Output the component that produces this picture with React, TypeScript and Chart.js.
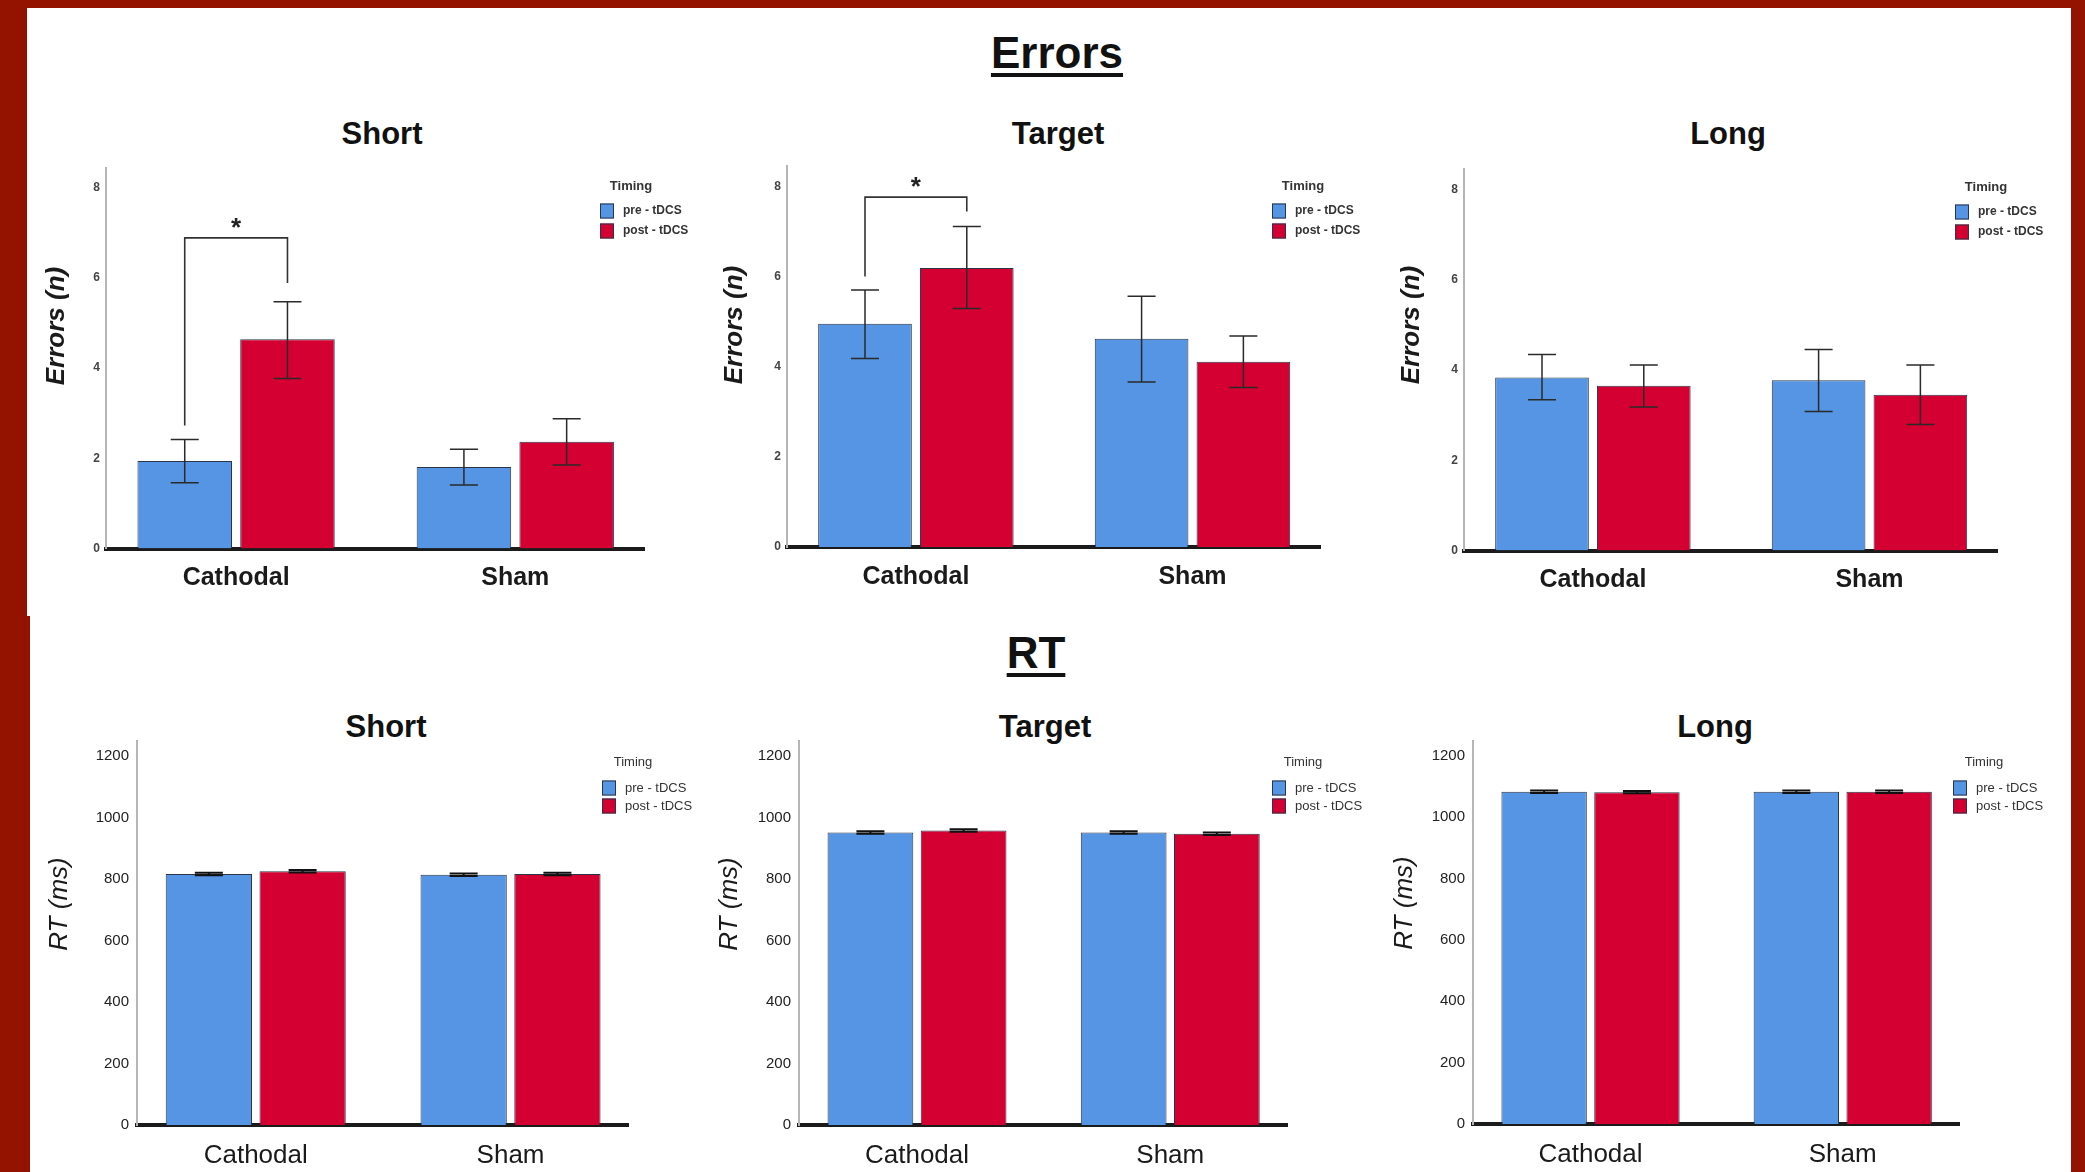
import React, { useEffect, useRef } from "react";
import { Chart, registerables } from "chart.js";

Chart.register(...registerables);

// ---------- DATA ----------
const CATEGORIES = ["Cathodal", "Sham"];
const SERIES_LABELS = ["pre - tDCS", "post - tDCS"];
const LEGEND_TITLE = "Timing";
const ERR_TICK_STEP = 2;
const ERR_AXIS_MAX = 8.45;
const RT_TICK_STEP = 200;
const RT_AXIS_MAX = 1250;

// Errors (n): means and 95% CI [low, high] per category
const errShortPre = [1.94, 1.81];
const errShortPost = [4.64, 2.37];
const errShortPreCI = [[1.46, 2.42], [1.41, 2.2]];
const errShortPostCI = [[3.77, 5.47], [1.85, 2.88]];

const errTargetPre = [4.95, 4.62];
const errTargetPost = [6.19, 4.11];
const errTargetPreCI = [[4.18, 5.7], [3.66, 5.56]];
const errTargetPostCI = [[5.29, 7.11], [3.54, 4.68]];

const errLongPre = [3.83, 3.77];
const errLongPost = [3.65, 3.45];
const errLongPreCI = [[3.34, 4.34], [3.08, 4.45]];
const errLongPostCI = [[3.18, 4.11], [2.79, 4.11]];

// RT (ms)
const rtShortPre = [816, 814];
const rtShortPost = [825, 816];
const rtShortPreCI = [[812, 820], [810, 818]];
const rtShortPostCI = [[821, 829], [812, 820]];

const rtTargetPre = [951, 951];
const rtTargetPost = [958, 947];
const rtTargetPreCI = [[947, 955], [947, 955]];
const rtTargetPostCI = [[954, 962], [943, 951]];

const rtLongPre = [1083, 1083];
const rtLongPost = [1082, 1083];
const rtLongPreCI = [[1079, 1087], [1079, 1087]];
const rtLongPostCI = [[1078, 1086], [1079, 1087]];

// Significance brackets (Cathodal pre vs post): [left end, bracket top, right end, star]
const sigShort = [2.73, 6.89, 5.89, 7.22];
const sigTarget = [6.0, 7.76, 7.44, 8.09];

// ---------- STYLE / LAYOUT ----------
const FONT = "'Liberation Sans', Arial, Helvetica, sans-serif";
const BLUE = "#5595e3";
const RED = "#d30031";
const BAR_BORDER = "#2c3548";
const FRAME = "#941300";
// category axis range (category index units) so groups sit at ~24% / 76% of the axis
const X_MIN = -0.466;
const X_MAX = 1.461;

type Panel = {
  key: string;
  kind: "err" | "rt";
  title: string;
  titleX: number;
  titleY: number;
  pre: number[];
  post: number[];
  preCI: number[][];
  postCI: number[][];
  sig?: number[];
  canvas: { x: number; y: number; w: number; h: number };
  area: { l: number; r: number; t: number; b: number };
  yTitle: { x: number; y: number };
  legend: { x: number; y: number };
};

const PANELS: Panel[] = [
  {
    key: "es", kind: "err", title: "Short", titleX: 382, titleY: 133,
    pre: errShortPre, post: errShortPost, preCI: errShortPreCI, postCI: errShortPostCI, sig: sigShort,
    canvas: { x: 30, y: 150, w: 685, h: 465 },
    area: { l: 106, r: 644, t: 167.5, b: 548.5 },
    yTitle: { x: 57, y: 326 }, legend: { x: 600, y: 186 },
  },
  {
    key: "et", kind: "err", title: "Target", titleX: 1058, titleY: 133,
    pre: errTargetPre, post: errTargetPost, preCI: errTargetPreCI, postCI: errTargetPostCI, sig: sigTarget,
    canvas: { x: 715, y: 150, w: 670, h: 465 },
    area: { l: 787, r: 1320, t: 166, b: 547 },
    yTitle: { x: 735, y: 325 }, legend: { x: 1272, y: 186 },
  },
  {
    key: "el", kind: "err", title: "Long", titleX: 1728, titleY: 133,
    pre: errLongPre, post: errLongPost, preCI: errLongPreCI, postCI: errLongPostCI,
    canvas: { x: 1385, y: 150, w: 683, h: 465 },
    area: { l: 1464, r: 1997, t: 169, b: 550.5 },
    yTitle: { x: 1412, y: 325 }, legend: { x: 1955, y: 187 },
  },
  {
    key: "rs", kind: "rt", title: "Short", titleX: 386, titleY: 726,
    pre: rtShortPre, post: rtShortPost, preCI: rtShortPreCI, postCI: rtShortPostCI,
    canvas: { x: 30, y: 705, w: 678, h: 467 },
    area: { l: 137, r: 628, t: 740.6, b: 1125 },
    yTitle: { x: 60, y: 904 }, legend: { x: 602, y: 762 },
  },
  {
    key: "rt", kind: "rt", title: "Target", titleX: 1045, titleY: 726,
    pre: rtTargetPre, post: rtTargetPost, preCI: rtTargetPreCI, postCI: rtTargetPostCI,
    canvas: { x: 708, y: 705, w: 677, h: 467 },
    area: { l: 799, r: 1287, t: 740.6, b: 1125 },
    yTitle: { x: 730, y: 904 }, legend: { x: 1272, y: 762 },
  },
  {
    key: "rl", kind: "rt", title: "Long", titleX: 1715, titleY: 726,
    pre: rtLongPre, post: rtLongPost, preCI: rtLongPreCI, postCI: rtLongPostCI,
    canvas: { x: 1385, y: 705, w: 683, h: 467 },
    area: { l: 1473, r: 1959, t: 740.6, b: 1124 },
    yTitle: { x: 1405, y: 903 }, legend: { x: 1953, y: 762 },
  },
];

function makeOverlay(p: Panel) {
  const ox = p.canvas.x;
  const oy = p.canvas.y;
  const isErr = p.kind === "err";
  return {
    id: "overlay_" + p.key,
    afterDatasetsDraw(chart: any) {
      const ctx = chart.ctx;
      const ys = chart.scales.y;
      ctx.save();
      // error bars
      const cis = [p.preCI, p.postCI];
      const cap = 14;
      cis.forEach((ci, di) => {
        const meta = chart.getDatasetMeta(di);
        meta.data.forEach((el: any, j: number) => {
          const x = el.x;
          const y1 = ys.getPixelForValue(ci[j][0]);
          const y2 = ys.getPixelForValue(ci[j][1]);
          ctx.strokeStyle = isErr ? "#2a2a2a" : "#111";
          ctx.lineWidth = isErr ? 1.5 : 2;
          ctx.beginPath();
          ctx.moveTo(x, y1);
          ctx.lineTo(x, y2);
          ctx.moveTo(x - cap, y1);
          ctx.lineTo(x + cap, y1);
          ctx.moveTo(x - cap, y2);
          ctx.lineTo(x + cap, y2);
          ctx.stroke();
        });
      });
      // significance bracket
      if (p.sig) {
        const xa = chart.getDatasetMeta(0).data[0].x;
        const xb = chart.getDatasetMeta(1).data[0].x;
        const yl = ys.getPixelForValue(p.sig[0]);
        const yt = ys.getPixelForValue(p.sig[1]);
        const yr = ys.getPixelForValue(p.sig[2]);
        const ystar = ys.getPixelForValue(p.sig[3]);
        ctx.strokeStyle = "#333";
        ctx.lineWidth = 1.6;
        ctx.beginPath();
        ctx.moveTo(xa, yl);
        ctx.lineTo(xa, yt);
        ctx.lineTo(xb, yt);
        ctx.lineTo(xb, yr);
        ctx.stroke();
        ctx.fillStyle = "#222";
        ctx.font = `bold 26px ${FONT}`;
        ctx.textAlign = "center";
        ctx.textBaseline = "middle";
        ctx.fillText("*", (xa + xb) / 2, ystar + 6);
      }
      ctx.restore();
    },
    afterDraw(chart: any) {
      const ctx = chart.ctx;
      ctx.save();
      // y-axis title
      ctx.translate(p.yTitle.x - ox, p.yTitle.y - oy);
      ctx.rotate(-Math.PI / 2);
      ctx.fillStyle = "#1a1a1a";
      ctx.font = isErr ? `italic bold 26px ${FONT}` : `italic 26px ${FONT}`;
      ctx.textAlign = "center";
      ctx.textBaseline = "middle";
      ctx.fillText(isErr ? "Errors (n)" : "RT (ms)", 0, 0);
      ctx.restore();

      // legend
      ctx.save();
      const lx = p.legend.x - ox;
      const ly = p.legend.y - oy;
      ctx.fillStyle = "#333";
      ctx.font = isErr ? `bold 13px ${FONT}` : `13px ${FONT}`;
      ctx.textAlign = "center";
      ctx.textBaseline = "middle";
      ctx.fillText(LEGEND_TITLE, lx + 31, ly);
      const colors = [BLUE, RED];
      const offs = isErr ? [25, 45] : [26, 44];
      SERIES_LABELS.forEach((lab, i) => {
        const cy = ly + offs[i];
        ctx.fillStyle = colors[i];
        ctx.fillRect(lx, cy - 7.5, 14, 15);
        ctx.strokeStyle = BAR_BORDER;
        ctx.lineWidth = 1;
        ctx.strokeRect(lx + 0.5, cy - 7, 13, 14);
        ctx.fillStyle = "#333";
        ctx.font = isErr ? `bold 12px ${FONT}` : `13px ${FONT}`;
        ctx.textAlign = "left";
        ctx.fillText(lab, lx + 23, cy);
      });
      ctx.restore();
    },
  };
}

function PanelChart({ p }: { p: Panel }) {
  const ref = useRef<HTMLCanvasElement | null>(null);
  useEffect(() => {
    if (!ref.current) return;
    const isErr = p.kind === "err";
    const yW = p.area.l - p.canvas.x;
    const padTop = p.area.t - p.canvas.y;
    const padRight = p.canvas.x + p.canvas.w - p.area.r;
    const xH = p.canvas.y + p.canvas.h - p.area.b;
    const toPoints = (arr: number[]) => arr.map((v, i) => ({ x: i, y: v }));
    const chart = new Chart(ref.current, {
      type: "bar",
      data: {
        datasets: [
          {
            label: SERIES_LABELS[0],
            data: toPoints(p.pre),
            backgroundColor: BLUE,
            borderColor: BAR_BORDER,
            borderWidth: 1,
            categoryPercentage: 0.736,
            barPercentage: 0.92,
          },
          {
            label: SERIES_LABELS[1],
            data: toPoints(p.post),
            backgroundColor: RED,
            borderColor: BAR_BORDER,
            borderWidth: 1,
            categoryPercentage: 0.736,
            barPercentage: 0.92,
          },
        ],
      },
      options: {
        responsive: false,
        animation: false,
        devicePixelRatio: 1,
        layout: { padding: { left: 0, top: padTop, right: padRight, bottom: 0 } },
        plugins: {
          legend: { display: false },
          tooltip: { enabled: false },
          title: { display: false },
        },
        scales: {
          x: {
            type: "linear",
            offset: false,
            min: X_MIN,
            max: X_MAX,
            grid: { display: false, drawTicks: false, offset: false },
            border: { display: true, color: "#1b1b1b", width: 4 },
            ticks: {
              stepSize: 1,
              includeBounds: false,
              autoSkip: false,
              maxRotation: 0,
              color: "#1a1a1a",
              padding: 15,
              font: { family: FONT, size: isErr ? 25 : 26, weight: isErr ? "bold" : "normal" },
              callback: (v: any) => {
                const i = Math.round(Number(v));
                return Math.abs(Number(v) - i) < 1e-6 && CATEGORIES[i] ? CATEGORIES[i] : "";
              },
            },
            afterFit: (s: any) => {
              s.height = xH;
            },
          },
          y: {
            min: 0,
            max: isErr ? ERR_AXIS_MAX : RT_AXIS_MAX,
            grid: { display: false, drawTicks: false },
            border: { display: true, color: "#b5b5b5", width: 2 },
            ticks: {
              stepSize: isErr ? ERR_TICK_STEP : RT_TICK_STEP,
              includeBounds: false,
              color: isErr ? "#444" : "#222",
              padding: isErr ? 6 : 8,
              font: { family: FONT, size: isErr ? 12 : 15, weight: isErr ? "bold" : "normal" },
              callback: (v: any) => String(v),
            },
            afterFit: (s: any) => {
              s.width = yW;
            },
          },
        },
      } as any,
      plugins: [makeOverlay(p)],
    });
    return () => chart.destroy();
  }, [p]);
  return (
    <canvas
      ref={ref}
      width={p.canvas.w}
      height={p.canvas.h}
      style={{
        position: "absolute",
        left: p.canvas.x,
        top: p.canvas.y,
        width: p.canvas.w,
        height: p.canvas.h,
      }}
    />
  );
}

function Label({ text, x, y, size, underline }: { text: string; x: number; y: number; size: number; underline?: boolean }) {
  return (
    <div
      style={{
        position: "absolute",
        left: x - 300,
        top: y - size / 2,
        width: 600,
        textAlign: "center",
        fontFamily: FONT,
        fontWeight: "bold",
        fontSize: size,
        lineHeight: `${size}px`,
        color: "#111",
        textDecoration: underline ? "underline" : "none",
        textDecorationThickness: underline ? "4px" : undefined,
        textUnderlineOffset: underline ? "5px" : undefined,
        whiteSpace: "nowrap",
      }}
    >
      {text}
    </div>
  );
}

export default function App() {
  useEffect(() => {
    document.body.style.margin = "0";
  }, []);
  return (
    <div
      style={{
        position: "absolute",
        left: 0,
        top: 0,
        width: 2085,
        height: 1172,
        background: FRAME,
        overflow: "hidden",
      }}
    >
      <div style={{ position: "absolute", left: 27, top: 8, width: 2044, height: 608, background: "#fff" }} />
      <div style={{ position: "absolute", left: 30, top: 615, width: 2041, height: 557, background: "#fff" }} />
      <Label text="Errors" x={1057} y={53} size={44} underline />
      <Label text="RT" x={1036} y={653} size={44} underline />
      {PANELS.map((p) => (
        <Label key={"t" + p.key} text={p.title} x={p.titleX} y={p.titleY} size={31} />
      ))}
      {PANELS.map((p) => (
        <PanelChart key={p.key} p={p} />
      ))}
    </div>
  );
}
